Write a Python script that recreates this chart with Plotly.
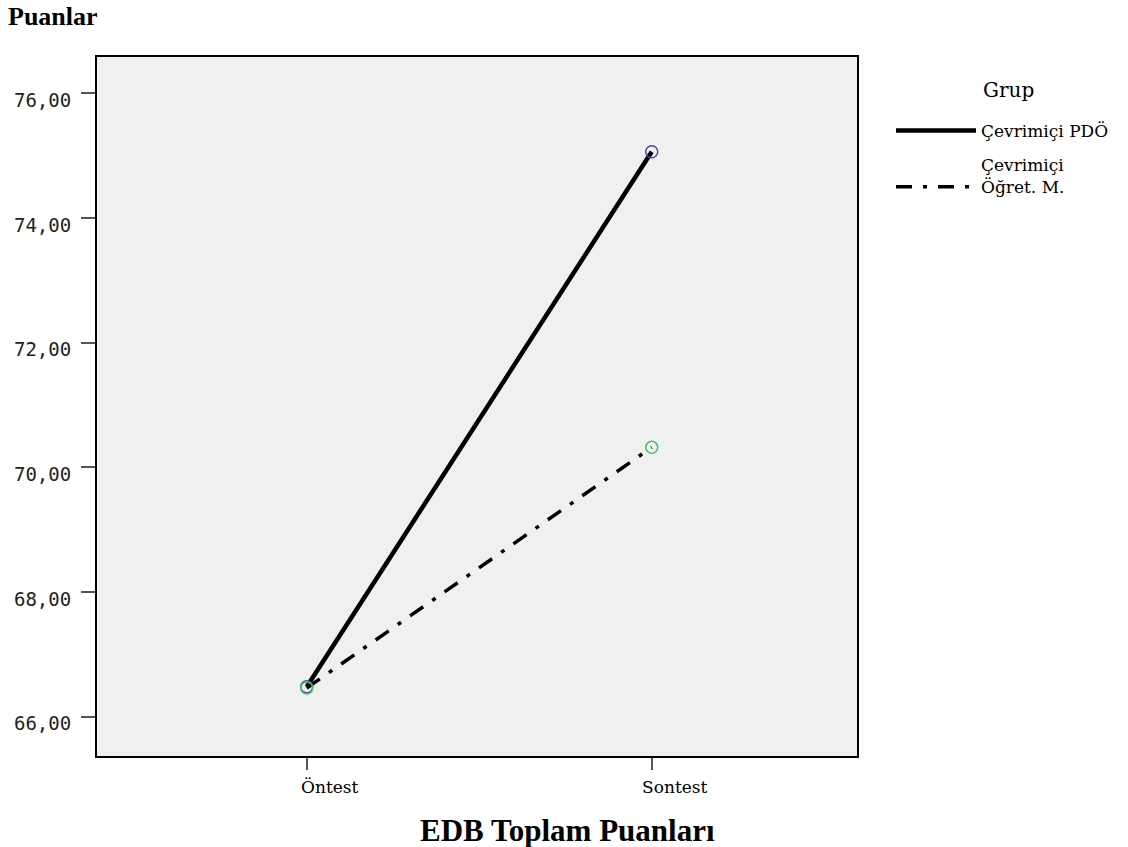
import plotly.graph_objects as go

categories = ["Öntest", "Sontest"]
pdo_values = [66.48, 75.06]
ogret_values = [66.46, 70.32]
series_names = ["Çevrimiçi PDÖ", "Çevrimiçi<br>Öğret. M."]
y_ticks = [66, 68, 70, 72, 74, 76]

W, H = 1128, 847
plot_l, plot_r, plot_t, plot_b = 97, 857, 57, 756

fig = go.Figure()
fig.add_trace(go.Scatter(x=categories, y=pdo_values, mode="lines", name=series_names[0],
                         legendgroup="a", line=dict(color="black", width=4.5)))
fig.add_trace(go.Scatter(x=categories, y=ogret_values, mode="lines", name=series_names[1],
                         legendgroup="b", line=dict(color="black", width=3.5, dash="16px,11px,4px,11px")))
fig.add_trace(go.Scatter(x=categories, y=pdo_values, mode="markers", showlegend=False,
                         marker=dict(symbol="circle-open", size=12, color="#4a4aa8", line=dict(width=1.5))))
fig.add_trace(go.Scatter(x=categories, y=ogret_values, mode="markers", showlegend=False,
                         marker=dict(symbol="circle-open", size=12, color="#4cbf6a", line=dict(width=1.5))))


def px_to_paper(px, py):
    return ((px - plot_l) / (plot_r - plot_l), (plot_b - py) / (plot_b - plot_t))


def ann(text, px, py, size, family, xanchor="left"):
    x, y = px_to_paper(px, py)
    return dict(text=text, x=x, y=y, xref="paper", yref="paper", showarrow=False,
                xanchor=xanchor, yanchor="middle", font=dict(family=family, size=size, color="black"))


lx, ly = px_to_paper(891, 113)

fig.update_layout(
    width=W, height=H,
    margin=dict(l=plot_l, r=W - plot_r, t=plot_t, b=H - plot_b),
    paper_bgcolor="white", plot_bgcolor="#f0f0f0",
    separators=",.",
    showlegend=True,
    legend=dict(x=lx, y=ly, xanchor="left", yanchor="top", xref="paper", yref="paper",
                font=dict(family="DejaVu Serif", size=17, color="black"),
                itemwidth=80, traceorder="grouped", tracegroupgap=9, valign="bottom",
                bgcolor="rgba(0,0,0,0)"),
    xaxis=dict(type="category", range=[-0.608, 1.595], showgrid=False,
               showline=True, linecolor="black", linewidth=2, mirror=True,
               ticks="outside", ticklen=12, tickcolor="#555", tickwidth=1.5,
               tickfont=dict(family="DejaVu Serif", size=17, color="black"),
               ticklabelshift=23, ticklabelstandoff=3),
    yaxis=dict(range=[65.37, 76.58], tickvals=y_ticks, tickformat=".2f", showgrid=False,
               showline=True, linecolor="black", linewidth=2, mirror=True,
               ticks="outside", ticklen=14, tickcolor="#555", tickwidth=1.5,
               tickfont=dict(family="DejaVu Sans Mono", size=19, color="#222"),
               ticklabelshift=7, ticklabelstandoff=6),
    annotations=[
        ann("<b>Puanlar</b>", 6, 16, 26, "Liberation Serif"),
        ann("Grup", 981, 90, 20, "DejaVu Serif"),
        ann("<b>EDB Toplam Puanları</b>", 567, 830, 31, "Liberation Serif", xanchor="center"),
    ],
)
fig.write_html("out.html", post_script="document.body.style.margin='0';",
               config={"displayModeBar": False})
